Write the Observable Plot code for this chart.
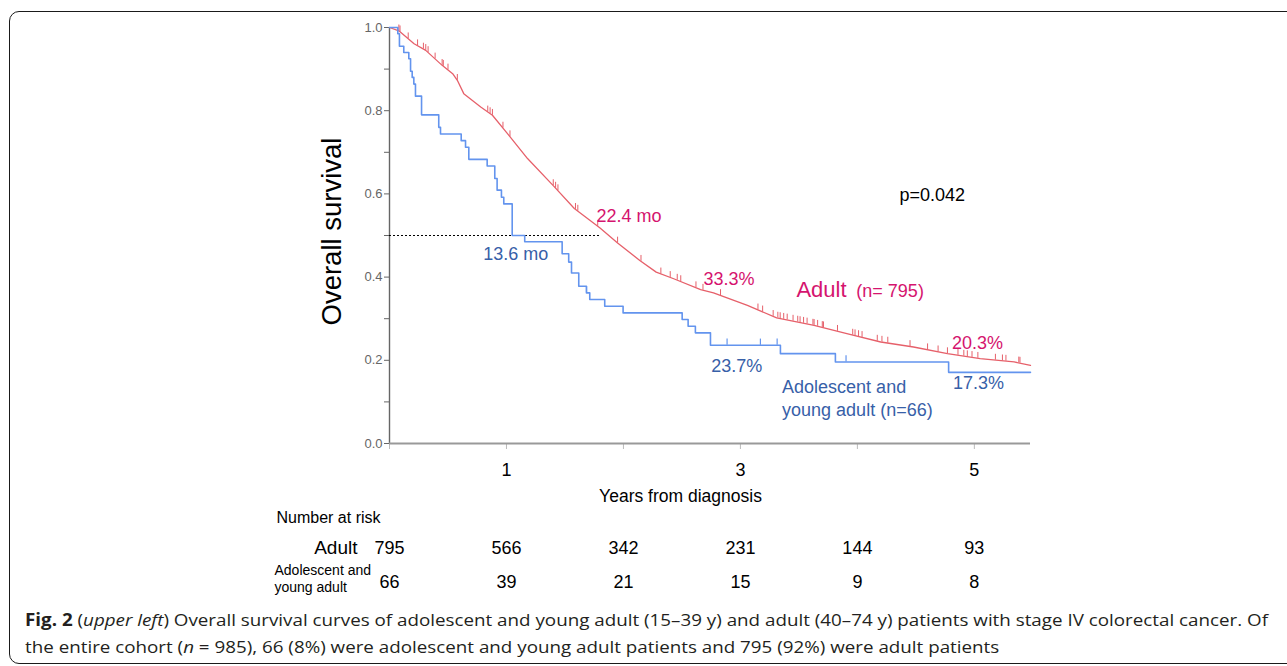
<!DOCTYPE html>
<html><head><meta charset="utf-8">
<script src="https://cdn.jsdelivr.net/npm/d3@7"></script>
<script src="https://cdn.jsdelivr.net/npm/@observablehq/plot@0.6"></script>
<style>
body{margin:0;background:#fff;width:1287px;height:666px;overflow:hidden;position:relative;font-family:"Liberation Sans",Arial,sans-serif;}
#chart{position:absolute;left:0;top:0;}
#frame{position:absolute;left:9px;top:11px;right:-30px;height:651px;border:1.3px solid #1a1a1a;border-radius:10px;pointer-events:none;}
#caption{position:absolute;left:25px;top:606px;font-family:"Open Sans",sans-serif;font-size:17px;color:#231f20;line-height:27px;white-space:nowrap;}
#caption div{transform-origin:0 50%;width:max-content;}
</style></head><body>
<div id="chart"></div>
<div id="frame"></div>
<div id="caption">
<div id="cap1"><b>Fig. 2</b> (<i>upper left</i>) Overall survival curves of adolescent and young adult (15–39 y) and adult (40–74 y) patients with stage IV colorectal cancer. Of</div>
<div id="cap2">the entire cohort (<i>n</i> = 985), 66 (8%) were adolescent and young adult patients and 795 (92%) were adult patients</div>
</div>
<script>
// ---- data (years from diagnosis, survival proportion) ----
const adultYears = [0,0.08,0.21,0.31,0.45,0.54,0.58,0.635,0.78,0.88,1.0,1.18,1.40,1.58,1.80,1.95,2.14,2.28,2.43,2.66,2.77,3.06,3.31,3.63,3.91,4.20,4.48,4.77,5.05,5.34,5.48];
const adultSurv  = [1.0,0.992,0.961,0.945,0.909,0.889,0.873,0.841,0.809,0.789,0.748,0.685,0.620,0.565,0.518,0.482,0.440,0.412,0.396,0.370,0.362,0.332,0.302,0.284,0.264,0.244,0.232,0.216,0.204,0.196,0.188];
const adultCensor = [0.08,0.09,0.16,0.24,0.29,0.31,0.33,0.39,0.45,0.46,0.50,0.58,0.84,0.86,0.88,0.97,1.03,1.40,1.42,1.44,1.59,1.61,1.78,1.95,2.15,2.32,2.40,2.46,2.49,2.62,2.68,2.83,3.15,3.19,3.28,3.32,3.34,3.37,3.40,3.45,3.49,3.51,3.54,3.57,3.62,3.63,3.66,3.70,3.71,3.83,3.96,3.98,4.01,4.04,4.17,4.21,4.26,4.45,4.60,4.69,4.77,4.86,4.91,4.94,4.98,5.03,5.18,5.24,5.27,5.38,5.39];

const ayaYears = [0,0.071,0.085,0.122,0.165,0.18,0.194,0.208,0.222,0.274,0.421,0.436,0.613,0.650,0.678,0.835,0.900,0.920,0.957,0.977,1.049,1.156,1.476,1.532,1.556,1.618,1.684,1.712,1.840,1.997,2.502,2.553,2.615,2.744,3.342,3.812,4.780,5.48];
const ayaSurv  = [1.0,0.985,0.955,0.940,0.925,0.895,0.880,0.864,0.835,0.790,0.760,0.744,0.728,0.712,0.683,0.667,0.637,0.609,0.592,0.576,0.500,0.485,0.456,0.436,0.410,0.378,0.362,0.346,0.330,0.314,0.298,0.282,0.266,0.236,0.216,0.196,0.171,0.171];
const ayaCensor = [1.684,2.886,3.171,3.314,3.903];

const medianCross = [1.80];      // where the 50% reference line meets the adult curve
const yTickValues = [0,0.1,0.2,0.3,0.4,0.5,0.6,0.7,0.8,0.9,1.0];
const yTickLabels = ["0.0","","0.2","","0.4","","0.6","","0.8","","1.0"];
const xTickValues = [0,1,2,3,4,5];
const xTickLabels = ["","1","","3","","5"];

const riskYears = [0,1,2,3,4,5];
const riskAdult = [795,566,342,231,144,93];
const riskAYA   = [66,39,21,15,9,8];

// ---- derived tables ----
const adult = adultYears.map((t,i)=>({t, s: adultSurv[i]}));
const aya = ayaYears.map((t,i)=>({t, s: ayaSurv[i]}));
const adultAt = d3.scaleLinear().domain(adultYears).range(adultSurv);
const ayaAt = t => ayaSurv[Math.max(0, d3.bisectRight(ayaYears, t) - 1)];

const PINK = "#d5146e", BLUE_T = "#3760a8", RED = "#e6606a", BLUE = "#6394ee";
const F = "Liberation Sans, Arial, sans-serif";
const lab = (text, t, s, o={}) => Plot.text([text], {x: [t], y: [s], text: d=>d, textAnchor:"start", lineAnchor:"bottom", fontSize:18, fontFamily:F, ...o});

const chart = Plot.plot({
  width: 1287, height: 600,
  marginLeft: 389, marginRight: 257, marginTop: 27, marginBottom: 157,
  style: {background: "transparent", overflow: "visible", fontFamily: F},
  x: {domain: [0, 5.48]},
  y: {domain: [0, 1]},
  marks: [
    Plot.axisY({ticks: yTickValues, tickFormat: (d,i)=>yTickLabels[i], tickSize:5, tickPadding:2, fontSize:13, color:"#666", label:null}),
    Plot.axisX({ticks: xTickValues, tickFormat: (d,i)=>xTickLabels[i], tickSize:6, tickPadding:14, fontSize:18, stroke:"#bbb", fill:"#000", label:null}),
    Plot.ruleX([0], {stroke:"#666", strokeWidth:1.4}),
    Plot.ruleY([0], {stroke:"#999", strokeWidth:2}),
    Plot.ruleY([0.5], {x1: 0, x2: medianCross[0], stroke:"#000", strokeWidth:1, strokeDasharray:"2,2"}),
    Plot.line(adult, {x:"t", y:"s", stroke: RED, strokeWidth:1.3}),
    Plot.ruleX(adultCensor, {x: d=>d, y1: d=>adultAt(d), y2: d=>adultAt(d)+0.014, stroke: RED, strokeWidth:1}),
    Plot.line(aya, {x:"t", y:"s", curve:"step-after", stroke: BLUE, strokeWidth:1.6}),
    Plot.ruleX(ayaCensor, {x: d=>d, y1: d=>ayaAt(d), y2: d=>ayaAt(d)+0.015, stroke: BLUE, strokeWidth:1.2}),
    // annotations
    lab("22.4 mo", 1.769, 0.532, {fill: PINK}),
    lab("13.6 mo", 0.801, 0.4416, {fill: BLUE_T}),
    lab("33.3%", 2.684, 0.380, {fill: PINK}),
    lab("p=0.042", 4.359, 0.5825, {fill: "#000"}),
    lab("Adult", 3.479, 0.353, {fill: PINK, fontSize: 22}),
    lab("(n= 795)", 3.991, 0.353, {fill: PINK, fontSize: 18}),
    lab("20.3%", 4.809, 0.228, {fill: PINK}),
    lab("23.7%", 2.750, 0.171, {fill: BLUE_T}),
    lab("Adolescent and\nyoung adult (n=66)", 3.356, 0.067, {fill: BLUE_T, lineHeight: 1.28}),
    lab("17.3%", 4.818, 0.130, {fill: BLUE_T}),
    // axis titles
    Plot.text(["Overall survival"], {frameAnchor:"left", text:d=>d, rotate:-90, textAnchor:"middle", lineAnchor:"middle", dx:-57, dy:-4, fontSize:27.5, fontFamily:F, fill:"#000"}),
    Plot.text(["Years from diagnosis"], {frameAnchor:"bottom", text:d=>d, dx:-29.5, dy:58, lineAnchor:"bottom", fontSize:17.5, fontFamily:F, fill:"#000"}),
    // number at risk table
    Plot.text(["Number at risk"], {frameAnchor:"bottom-left", text:d=>d, dx:-113, dy:79, textAnchor:"start", lineAnchor:"bottom", fontSize:16, fontFamily:F, fill:"#000"}),
    Plot.text(["Adult"], {frameAnchor:"bottom-left", text:d=>d, dx:-32, dy:110, textAnchor:"end", lineAnchor:"bottom", fontSize:19, fontFamily:F, fill:"#000"}),
    Plot.text(["Adolescent and\nyoung adult"], {frameAnchor:"bottom-left", text:d=>d, dx:-115, dy:148, textAnchor:"start", lineAnchor:"bottom", lineHeight:1.15, fontSize:14, fontFamily:F, fill:"#000"}),
    Plot.text(riskYears, {x: d=>d, text: (d,i)=>riskAdult[i], frameAnchor:"bottom", dy:110, lineAnchor:"bottom", fontSize:18, fontFamily:F, fill:"#000"}),
    Plot.text(riskYears, {x: d=>d, text: (d,i)=>riskAYA[i], frameAnchor:"bottom", dy:144, lineAnchor:"bottom", fontSize:18, fontFamily:F, fill:"#000"})
  ]
});
document.getElementById("chart").appendChild(chart);

// fit caption width to the figure's text block
const c1 = document.getElementById("cap1"), c2 = document.getElementById("cap2");
const k = 1243 / c1.getBoundingClientRect().width;
c1.style.transform = c2.style.transform = `scaleX(${k})`;
</script>
</body></html>
